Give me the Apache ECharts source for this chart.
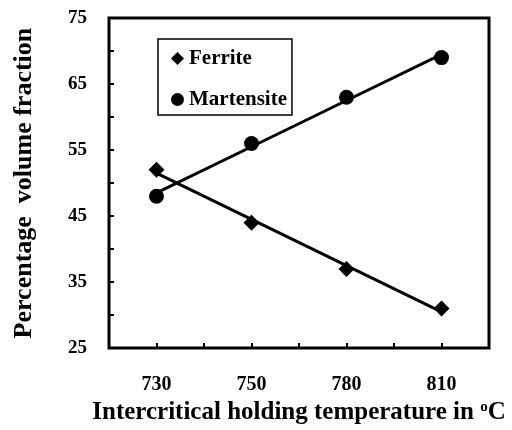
<!DOCTYPE html>
<html>
<head>
<meta charset="utf-8">
<script src="https://cdn.jsdelivr.net/npm/echarts@6/dist/echarts.min.js"></script>
<style>
html,body{margin:0;padding:0;background:#fff;}
#chart{width:512px;height:430px;}
</style>
</head>
<body>
<div id="chart"></div>
<script>
// ---- data ----
var temperatures = ['730', '750', '780', '810'];
var ferrite = [52, 44, 37, 31];
var martensite = [48, 56, 63, 69];
var yTickLabels = [25, 35, 45, 55, 65, 75];

// least-squares trendline over the category positions (as the original's linear trendline)
function trend(values) {
  var n = values.length, sx = 0, sy = 0, sxx = 0, sxy = 0;
  for (var i = 0; i < n; i++) { sx += i; sy += values[i]; sxx += i * i; sxy += i * values[i]; }
  var b = (n * sxy - sx * sy) / (n * sxx - sx * sx);
  var a = (sy - b * sx) / n;
  return values.map(function (_, i) { return a + b * i; });
}

var FONT = 'Liberation Serif';
var chart = echarts.init(document.getElementById('chart'), null, {renderer: 'canvas'});
chart.setOption({
  animation: false,
  backgroundColor: '#fff',
  textStyle: {fontFamily: FONT, fontWeight: 'bold', color: '#000'},
  grid: {left: 109, right: 23, top: 18, bottom: 73, show: true, borderColor: '#000', borderWidth: 3, backgroundColor: 'transparent'},
  legend: {
    data: ['Ferrite', 'Martensite'],
    orient: 'vertical', left: 158, top: 39,
    padding: [9, 5, 5, 13], itemGap: 20,
    itemWidth: 13, itemHeight: 13,
    borderColor: '#000', borderWidth: 1.5,
    textStyle: {fontFamily: FONT, fontWeight: 'bold', fontSize: 21, color: '#000'}
  },
  xAxis: [{
    type: 'category', data: temperatures, boundaryGap: true,
    name: 'Intercritical holding temperature in {sup|o}C',
    nameLocation: 'middle', nameGap: 45,
    nameTextStyle: {fontFamily: FONT, fontWeight: 'bold', fontSize: 25, color: '#000',
      rich: {sup: {fontFamily: FONT, fontWeight: 'bold', fontSize: 15, color: '#000', verticalAlign: 'top', padding: [0, 0, 10, 0]}}},
    axisLine: {show: false},
    axisTick: {show: true, inside: true, length: 5, lineStyle: {color: '#000', width: 2}},
    axisLabel: {margin: 27, fontFamily: FONT, fontWeight: 'bold', fontSize: 20, color: '#000'},
    splitLine: {show: false}
  }, {
    type: 'category', data: temperatures, boundaryGap: true, position: 'bottom',
    axisLine: {show: false},
    axisTick: {show: true, inside: true, alignWithLabel: true, length: 5, lineStyle: {color: '#000', width: 2}},
    axisLabel: {show: false},
    splitLine: {show: false}
  }],
  yAxis: {
    type: 'value', min: 25, max: 75, interval: 5,
    name: 'Percentage  volume fraction',
    nameLocation: 'middle', nameGap: 72, nameRotate: 90,
    nameTextStyle: {fontFamily: FONT, fontWeight: 'bold', fontSize: 26, color: '#000'},
    axisLine: {show: false},
    axisTick: {show: true, inside: true, length: 5, lineStyle: {color: '#000', width: 2}},
    axisLabel: {margin: 22, fontFamily: FONT, fontWeight: 'bold', fontSize: 19, color: '#000',
      formatter: function (v) { return yTickLabels.indexOf(v) >= 0 ? String(v) : ''; }},
    splitLine: {show: false}
  },
  series: [
    {name: 'Ferrite trend', type: 'line', data: trend(ferrite), symbol: 'none', silent: true,
     lineStyle: {color: '#000', width: 3}, z: 2},
    {name: 'Martensite trend', type: 'line', data: trend(martensite), symbol: 'none', silent: true,
     lineStyle: {color: '#000', width: 3}, z: 2},
    {name: 'Ferrite', type: 'scatter', data: ferrite, symbol: 'diamond', symbolSize: 16,
     itemStyle: {color: '#000', opacity: 1}, z: 3},
    {name: 'Martensite', type: 'scatter', data: martensite, symbol: 'circle', symbolSize: 15,
     itemStyle: {color: '#000', opacity: 1}, z: 3}
  ]
});
</script>
</body>
</html>
